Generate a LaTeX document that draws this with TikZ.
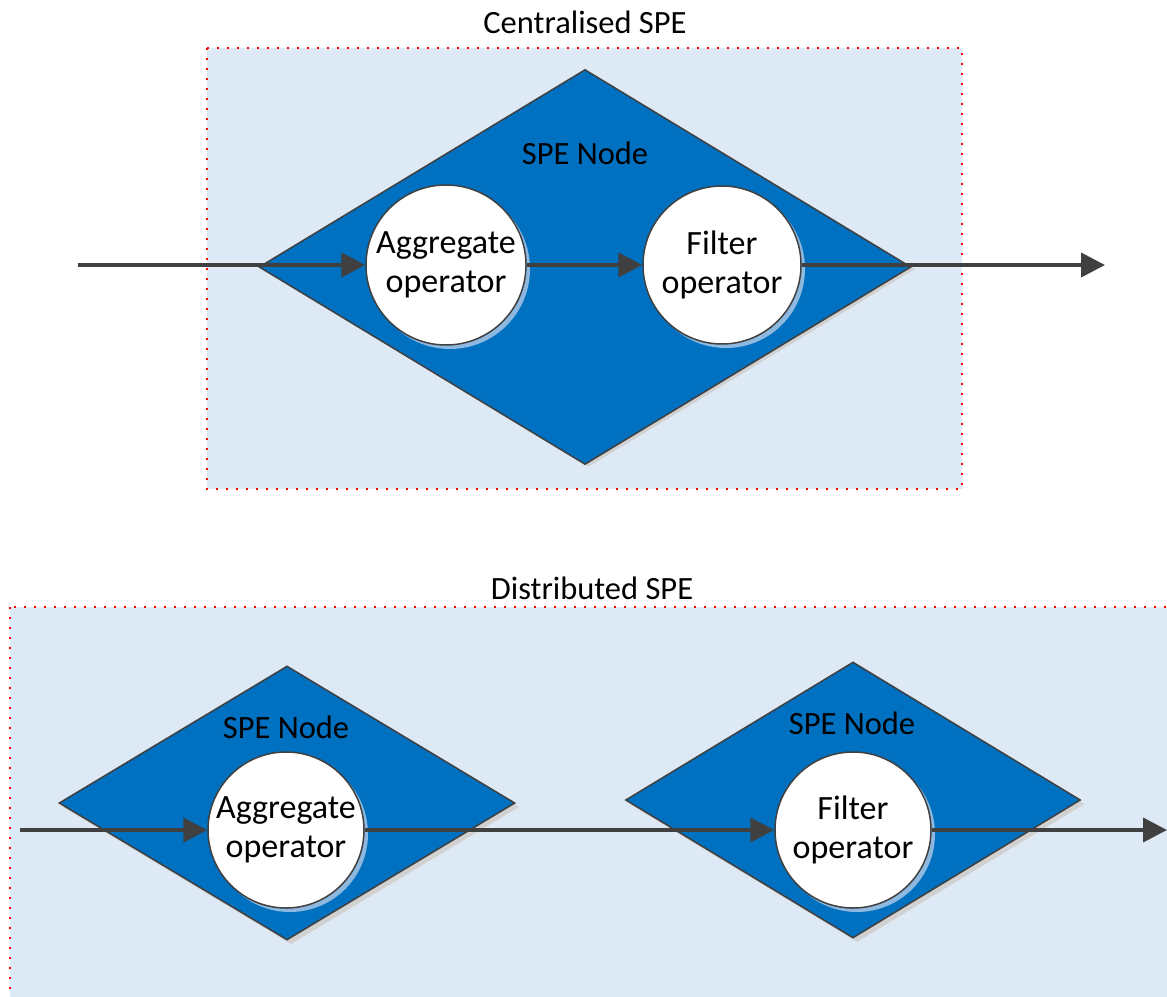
\documentclass[tikz,border=0pt]{standalone}
\usepackage{fontspec}
\setmainfont{Carlito}
\usetikzlibrary{shapes.geometric,arrows.meta}
\definecolor{panelfill}{HTML}{DDEAF6}
\definecolor{nodeblue}{HTML}{0070C0}
\definecolor{edgegray}{HTML}{404040}
\definecolor{ringshadow}{HTML}{8DB8E0}
\tikzset{
  lbl/.style={font=\fontsize{32.5}{38}\selectfont, inner sep=0pt},
  panel/.style={fill=panelfill, draw=red, line width=1.6pt,
    dash pattern=on 1.6pt off 8.4pt},
  spenode/.style={diamond, draw=edgegray, line width=1.5pt, fill=nodeblue,
    inner sep=0pt},
  speshadow/.style={diamond, fill=black!18, inner sep=0pt},
  opnode/.style={circle, draw=edgegray, line width=1.5pt, fill=white,
    align=center, inner sep=0pt, font=\fontsize{34}{39}\selectfont},
  opshadow/.style={circle, fill=ringshadow, inner sep=0pt},
  flow/.style={draw=edgegray, line width=4pt,
    -{Triangle[length=24pt, width=24pt]}},
}
\begin{document}
\begin{tikzpicture}[x=1pt, y=-1pt]
\useasboundingbox (0,0) rectangle (1167,996);

% ---- centralised engine ----
\node[lbl] (t1) at (585,22) {Centralised SPE};
\path[panel] (207,48) rectangle (962,489);
\node[speshadow, minimum width=652pt, minimum height=395pt] at (589,269) {};
\node[spenode, minimum width=652pt, minimum height=395pt] (d1) at (585,267) {};
\node[lbl, text=black] (n1) at (585,153) {SPE Node};
\node[opshadow, minimum size=160pt] at (450,269) {};
\node[opnode, minimum size=160pt] (agg1) at (446,265) {Aggregate\\operator};
\node[opshadow, minimum size=158pt] at (726,269) {};
\node[opnode, minimum size=158pt] (fil1) at (722,265) {Filter\\operator};
\coordinate (in1) at (78,265);
\coordinate (out1) at (1105,265);
\draw[flow] (in1) -- (agg1.west);
\draw[flow] (agg1.east) -- (fil1.west);
\draw[flow] (fil1.east) -- (out1);

% ---- distributed engine ----
\node[lbl] (t2) at (592,588) {Distributed SPE};
\path[panel] (10,607) rectangle (1180,1010);
\node[speshadow, minimum width=456pt, minimum height=274pt] at (291,807) {};
\node[spenode, minimum width=456pt, minimum height=274pt] (d2) at (287,803) {};
\node[speshadow, minimum width=455pt, minimum height=276pt] at (857,804) {};
\node[spenode, minimum width=455pt, minimum height=276pt] (d3) at (853,800) {};
\node[lbl] (n2) at (286,727) {SPE Node};
\node[lbl] (n3) at (852,723) {SPE Node};
\node[opshadow, minimum size=156pt] at (290,834) {};
\node[opnode, minimum size=156pt] (agg2) at (286,830) {Aggregate\\operator};
\node[opshadow, minimum size=156pt] at (857,834) {};
\node[opnode, minimum size=156pt] (fil2) at (853,830) {Filter\\operator};
\coordinate (in2) at (20,830);
\coordinate (out2) at (1167,830);
\draw[flow] (in2) -- (agg2.west);
\draw[flow] (agg2.east) -- (fil2.west);
\draw[flow] (fil2.east) -- (out2);
\end{tikzpicture}
\end{document}
